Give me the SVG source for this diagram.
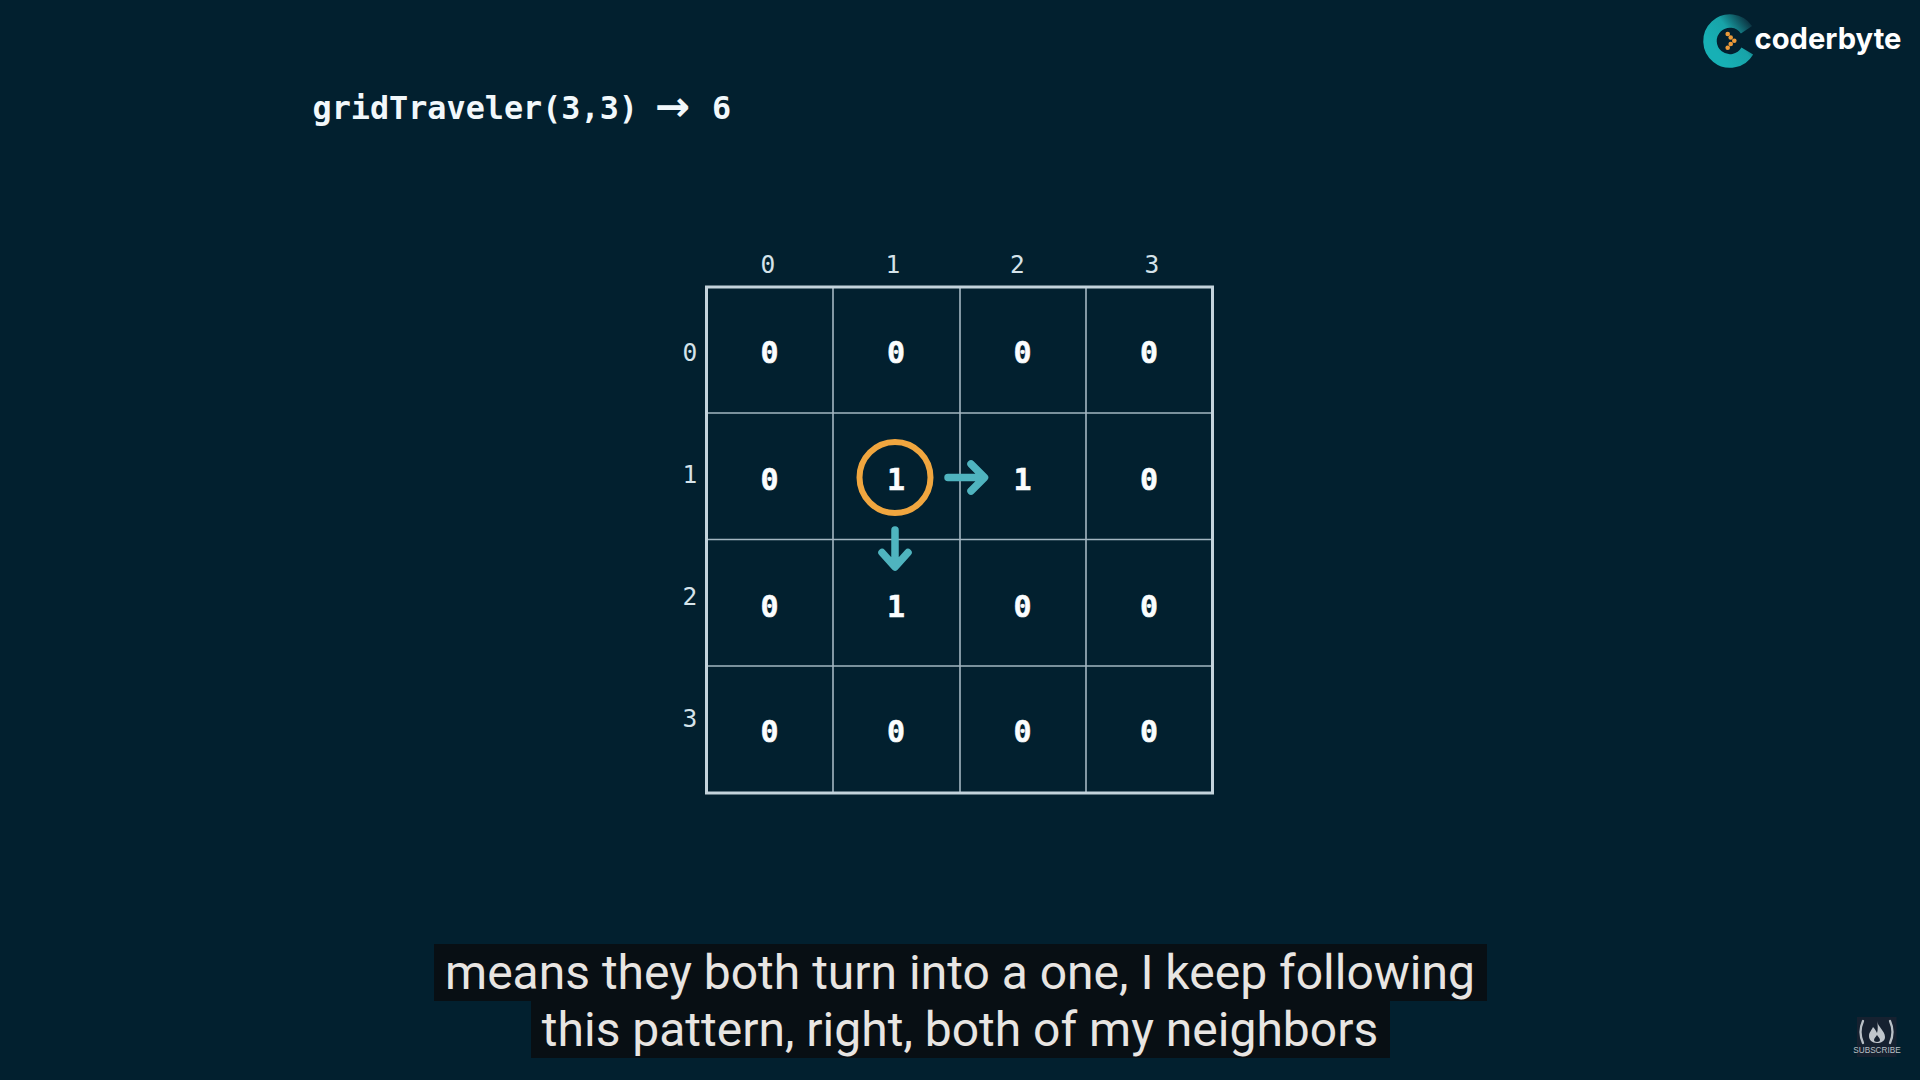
<svg xmlns="http://www.w3.org/2000/svg" width="1920" height="1080" viewBox="0 0 1920 1080">
<style>
.title{font:700 31.800px "DejaVu Sans Mono","Liberation Mono",monospace;fill:#f2f8fb}
.hdr{font:400 24.500px "DejaVu Sans Mono","Liberation Mono",monospace;fill:#d5e3ea;text-anchor:middle;dominant-baseline:central}
.val{font:700 30px "DejaVu Sans Mono","Liberation Mono",monospace;fill:#fbfdfe;text-anchor:middle;dominant-baseline:central;stroke:#fbfdfe;stroke-width:0.5}
.cap{font:400 48px Roboto,"Liberation Sans",sans-serif;fill:#e8e5e2;text-anchor:middle}
.thin{stroke:#a3b6c1;stroke-width:1.6;fill:none}
.arrow{stroke:#4fb4bf;stroke-width:7.5;fill:none;stroke-linecap:round;stroke-linejoin:round}
</style>
<defs>
<linearGradient id="lg" gradientUnits="userSpaceOnUse" x1="1751" y1="22" x2="1715" y2="50">
<stop offset="0" stop-color="#0b2b3a"/><stop offset="0.5" stop-color="#18a3a8"/><stop offset="1" stop-color="#17b0b5"/>
</linearGradient>
</defs>
<rect width="1920" height="1080" fill="#02202f"/>
<g id="logo">
<path d="M1746.500 29.700 A20 20 0 1 0 1747.300 51" fill="none" stroke="url(#lg)" stroke-width="13.500"/>
<g fill="#ec9a3a"><circle cx="1727.700" cy="34" r="2.300"/><circle cx="1730.700" cy="37.500" r="2.300"/><circle cx="1734.300" cy="40.700" r="2.300"/><circle cx="1730.700" cy="44" r="2.300"/><circle cx="1727.700" cy="47.700" r="2.300"/></g>
<text x="1754.500" y="49" font-family="Inter,Lato,sans-serif" font-weight="700" font-size="29.200" fill="#ffffff">coderbyte</text>
</g>
<text id="title" class="title" x="312.500" y="119">gridTraveler(3,3)<tspan x="655" y="121" font-family="'DejaVu Sans',sans-serif" font-size="42">→</tspan><tspan x="712" y="119">6</tspan></text>
<g id="grid">
<path class="thin" d="M833 287V792M960 287V792M1086 287V792M706 413H1213M706 539.500H1213M706 666H1213"/>
<rect x="706.500" y="287" width="506" height="506" fill="none" stroke="#c3d3dc" stroke-width="3"/>
</g>
<g id="column-labels">
<text class="hdr" x="768" y="264">0</text><text class="hdr" x="893" y="264">1</text><text class="hdr" x="1017.500" y="264">2</text><text class="hdr" x="1152" y="264">3</text>
</g>
<g id="row-labels">
<text class="hdr" x="690" y="352.500">0</text><text class="hdr" x="690" y="474.500">1</text><text class="hdr" x="690" y="596">2</text><text class="hdr" x="690" y="718">3</text>
</g>
<g id="row-0">
<text class="val" x="769.500" y="352">0</text><text class="val" x="896" y="352">0</text><text class="val" x="1022.500" y="352">0</text><text class="val" x="1149" y="352">0</text>
</g>
<g id="row-1">
<text class="val" x="769.500" y="479">0</text><text class="val" x="896" y="479">1</text><text class="val" x="1022.500" y="479">1</text><text class="val" x="1149" y="479">0</text>
</g>
<g id="row-2">
<text class="val" x="769.500" y="606">0</text><text class="val" x="896" y="606">1</text><text class="val" x="1022.500" y="606">0</text><text class="val" x="1149" y="606">0</text>
</g>
<g id="row-3">
<text class="val" x="769.500" y="731">0</text><text class="val" x="896" y="731">0</text><text class="val" x="1022.500" y="731">0</text><text class="val" x="1149" y="731">0</text>
</g>
<g id="highlight"><circle cx="895" cy="477.500" r="35.500" fill="none" stroke="#f0a63f" stroke-width="6"/></g>
<g id="connectors">
<path class="arrow" d="M948 477.500H983M971 464L984.500 477.500L971 491"/>
<path class="arrow" d="M895 530V566M882 552.500L895 567L908 552.500"/>
</g>
<g id="caption">
<rect x="434" y="944" width="1053" height="57" fill="#080f14"/>
<rect x="531" y="1001" width="859" height="57" fill="#080f14"/>
<text class="cap" x="960" y="989">means they both turn into a one, I keep following</text>
<text class="cap" x="960" y="1046">this pattern, right, both of my neighbors</text>
</g>
<g id="subscribe">
<rect x="1857" y="1017" width="39.500" height="40" fill="#162130"/>
<g fill="none" stroke="#b9c0c6" stroke-width="2.300" stroke-linecap="round">
<path d="M1863 1021Q1858 1032 1863 1043"/><path d="M1890 1021Q1895 1032 1890 1043"/>
</g>
<path fill-rule="evenodd" d="M1877 1021C1878 1027 1885 1031 1885 1037C1885 1041 1881 1043 1877 1043C1872 1043 1869 1040 1869 1036C1869 1032 1872 1030 1873 1027C1875 1029 1876 1031 1877 1033C1878 1030 1878 1025 1877 1021ZM1877 1035C1876 1037 1874 1038 1874 1040C1874 1041 1875 1042 1877 1042C1879 1042 1880 1041 1880 1040C1880 1038 1878 1037 1877 1035Z" fill="#c0c6cc"/>
<text x="1877" y="1053" font-family="'Liberation Sans',sans-serif" font-size="8.200" fill="#b9c0c6" text-anchor="middle">SUBSCRIBE</text>
</g>
</svg>
